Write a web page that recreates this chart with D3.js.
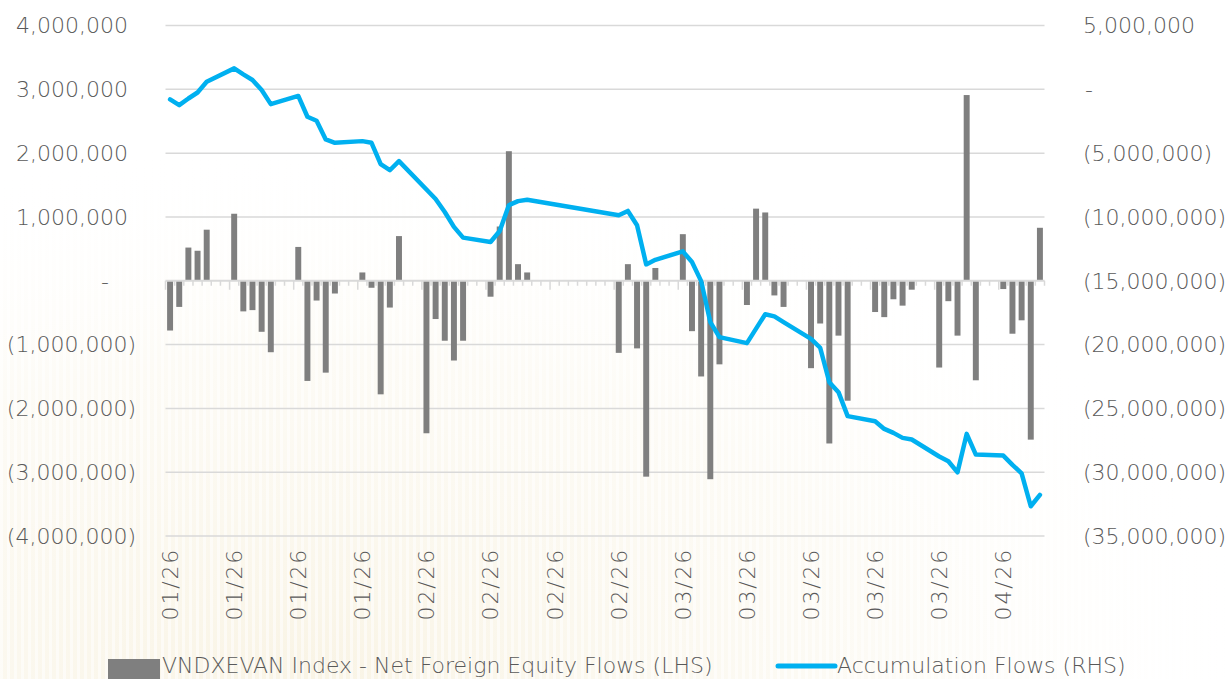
<!DOCTYPE html>
<html>
<head>
<meta charset="utf-8">
<script src="https://cdn.jsdelivr.net/npm/d3@7"></script>
<style>
  html, body { margin: 0; padding: 0; background: #fff; overflow: hidden; }
  #chart svg { display: block; }
  text { font-family: "DejaVu Sans", sans-serif; font-weight: 200; fill: #595959; }
</style>
</head>
<body>
<div id="chart"></div>
<script>
// calendar days on the axis (weekends / Tet have no value)
const startDate = "2026-01-05";
const dayCount = 96;
const labelEvery = 7;

// VNDXEVAN Index - Net Foreign Equity Flows (LHS)
const netFlows = [
  -780000, -410000, 520000, 470000, 800000, null, null,
  1050000, -480000, -460000, -800000, -1120000, null, null,
  530000, -1570000, -310000, -1440000, -200000, null, null,
  130000, -110000, -1780000, -420000, 700000, null, null,
  -2390000, -600000, -940000, -1250000, -940000, null, null,
  -250000, 850000, 2030000, 260000, 130000, null, null,
  null, null, null, null, null, null, null,
  -1130000, 260000, -1060000, -3070000, 200000, null, null,
  730000, -790000, -1500000, -3110000, -1310000, null, null,
  -380000, 1130000, 1070000, -230000, -410000, null, null,
  -1370000, -670000, -2550000, -860000, -1880000, null, null,
  -490000, -570000, -290000, -390000, -140000, null, null,
  -1360000, -320000, -860000, 2910000, -1560000, null, null,
  -130000, -830000, -620000, -2490000, 830000
];

// Accumulation Flows (RHS)
const accumFlows = [
  -790000, -1240000, -720000, -250000, 590000, null, null,
  1640000, 1170000, 730000, -60000, -1160000, null, null,
  -520000, -2150000, -2460000, -3930000, -4190000, null, null,
  -4060000, -4190000, -5870000, -6340000, -5630000, null, null,
  -7850000, -8590000, -9610000, -10780000, -11620000, null, null,
  -11960000, -11100000, -9080000, -8760000, -8660000, null, null,
  null, null, null, null, null, null, null,
  -9870000, -9530000, -10650000, -13720000, -13360000, null, null,
  -12700000, -13530000, -15030000, -18240000, -19420000, null, null,
  -19890000, -18750000, -17620000, -17790000, -18240000, null, null,
  -19550000, -20250000, -22950000, -23730000, -25610000, null, null,
  -26010000, -26610000, -26920000, -27310000, -27440000, null, null,
  -28770000, -29140000, -30010000, -27000000, -28620000, null, null,
  -28700000, -29430000, -30090000, -32670000, -31780000
];

const leftTicks = [4000000, 3000000, 2000000, 1000000, 0, -1000000, -2000000, -3000000, -4000000];
const rightTicks = [5000000, 0, -5000000, -10000000, -15000000, -20000000, -25000000, -30000000, -35000000];

const barLabel = "VNDXEVAN Index - Net Foreign Equity Flows (LHS)";
const lineLabel = "Accumulation Flows (RHS)";

document.addEventListener("DOMContentLoaded", function () {
    const width = 1227;
    const height = 679;
    const plot = { left: 165.5, right: 1044.5, top: 25.5, bottom: 536 };

    const svg = d3.select("#chart").append("svg")
        .attr("width", width)
        .attr("height", height)
        .attr("viewBox", `0 0 ${width} ${height}`);

    // faint beige backdrop, strongest bottom-left
    const defs = svg.append("defs");
    const grad = defs.append("radialGradient")
        .attr("id", "bgFade").attr("cx", "0.25").attr("cy", "1").attr("r", "0.8");
    grad.append("stop").attr("offset", "0").attr("stop-color", "#f7f0dc").attr("stop-opacity", 0.75);
    grad.append("stop").attr("offset", "0.6").attr("stop-color", "#faf6ea").attr("stop-opacity", 0.45);
    grad.append("stop").attr("offset", "1").attr("stop-color", "#ffffff").attr("stop-opacity", 0);
    const stripes = defs.append("pattern")
        .attr("id", "stripes").attr("patternUnits", "userSpaceOnUse")
        .attr("width", 7).attr("height", 10);
    stripes.append("rect").attr("width", 3).attr("height", 10).attr("fill", "#ffffff").attr("opacity", 0.55);

    svg.append("rect").attr("width", width).attr("height", height).attr("fill", "url(#bgFade)");
    svg.append("rect").attr("width", width).attr("height", height).attr("fill", "url(#stripes)");

    const days = d3.timeDay.range(new Date(startDate + "T00:00"), d3.timeDay.offset(new Date(startDate + "T00:00"), dayCount));
    const fmt = d3.timeFormat("%m/%y");
    const idx = d3.range(dayCount);

    const x = d3.scaleBand()
        .domain(idx)
        .range([plot.left, plot.right])
        .paddingInner(0.35)
        .paddingOuter(0.175);
    const cx = i => x(i) + x.bandwidth() / 2;

    const yL = d3.scaleLinear().domain([-4000000, 4000000]).range([plot.bottom, plot.top]);
    const yR = d3.scaleLinear().domain([-35000000, 5000000]).range([plot.bottom, plot.top]);

    const numFmt = d3.format(",");

    // gridlines
    svg.append("g").selectAll("line")
        .data(leftTicks.filter(d => d !== 0))
        .join("line")
        .attr("x1", plot.left).attr("x2", plot.right)
        .attr("y1", d => yL(d)).attr("y2", d => yL(d))
        .attr("stroke", "#d9d9d9").attr("stroke-width", 1.5);

    // left tick labels (accounting style)
    svg.append("g").selectAll("text")
        .data(leftTicks)
        .join("text")
        .attr("x", d => d > 0 ? 128 : d < 0 ? 136 : 109)
        .attr("y", d => yL(d))
        .attr("dy", "0.36em")
        .attr("text-anchor", "end")
        .style("font-size", "22px")
        .text(d => d > 0 ? numFmt(d) : d < 0 ? `(${numFmt(-d)})` : "-");

    // right tick labels
    svg.append("g").selectAll("text")
        .data(rightTicks)
        .join("text")
        .attr("x", d => d === 0 ? 1085 : 1083)
        .attr("y", d => yR(d))
        .attr("dy", "0.36em")
        .attr("text-anchor", "start")
        .style("font-size", "22px")
        .text(d => d > 0 ? numFmt(d) : d < 0 ? `(${numFmt(-d)})` : "-");

    // bars
    svg.append("g").selectAll("rect")
        .data(idx.filter(i => netFlows[i] !== null))
        .join("rect")
        .attr("x", i => x(i))
        .attr("width", x.bandwidth())
        .attr("y", i => yL(Math.max(0, netFlows[i])))
        .attr("height", i => Math.abs(yL(netFlows[i]) - yL(0)))
        .attr("fill", "#7f7f7f");

    // category axis on the zero line
    const step = x.step();
    const axis = svg.append("g").attr("stroke", "#d9d9d9");
    axis.append("line")
        .attr("x1", plot.left).attr("x2", plot.right)
        .attr("y1", yL(0)).attr("y2", yL(0))
        .attr("stroke-width", 2);
    axis.selectAll("line.tick")
        .data(d3.range(dayCount + 1))
        .join("line")
        .attr("class", "tick")
        .attr("x1", k => plot.left + k * step).attr("x2", k => plot.left + k * step)
        .attr("y1", yL(0)).attr("y2", k => yL(0) + (k % labelEvery === 0 ? 9 : 5))
        .attr("stroke-width", 1.5);

    // rotated date labels
    svg.append("g").selectAll("text")
        .data(idx.filter(i => i % labelEvery === 0))
        .join("text")
        .attr("transform", i => `translate(${cx(i)},548) rotate(-90)`)
        .attr("dy", "0.36em")
        .attr("text-anchor", "end")
        .style("font-size", "22px")
        .style("letter-spacing", "1.8px")
        .text(i => fmt(days[i]));

    // accumulation line, joined across non-trading days
    const pts = idx.filter(i => accumFlows[i] !== null);
    svg.append("path")
        .datum(pts)
        .attr("d", d3.line().x(i => cx(i)).y(i => yR(accumFlows[i])))
        .attr("fill", "none")
        .attr("stroke", "#00b0f0")
        .attr("stroke-width", 4.5)
        .attr("stroke-linejoin", "round")
        .attr("stroke-linecap", "round");

    // legend
    const lg = svg.append("g");
    lg.append("rect").attr("x", 108).attr("y", 659).attr("width", 52).attr("height", 22).attr("fill", "#7f7f7f");
    lg.append("text").attr("x", 162).attr("y", 673).style("font-size", "22px").text(barLabel);
    lg.append("line").attr("x1", 778).attr("x2", 835).attr("y1", 666).attr("y2", 666)
        .attr("stroke", "#00b0f0").attr("stroke-width", 5).attr("stroke-linecap", "round");
    lg.append("text").attr("x", 837).attr("y", 673).style("font-size", "22px").text(lineLabel);
});
</script>
</body>
</html>
